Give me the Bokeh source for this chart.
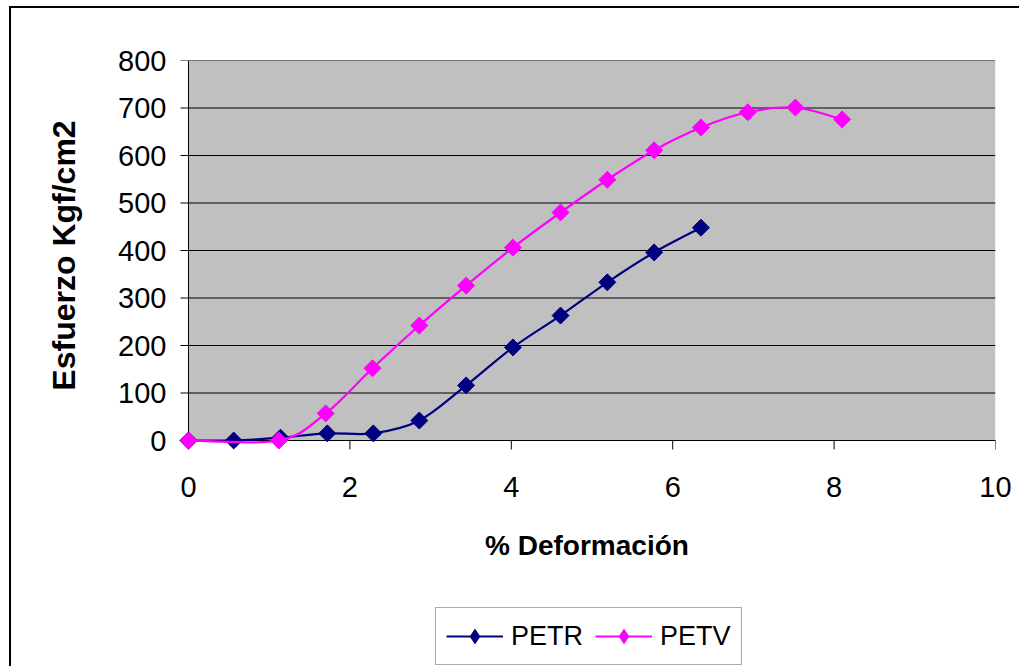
import numpy as np
from bokeh.plotting import figure
from bokeh.models import (ColumnDataSource, FixedTicker, Legend, LegendItem, Spacer)
from bokeh.layouts import column, row
from bokeh.embed import file_html
from bokeh.resources import INLINE

# % deformation vs stress (Kgf/cm2)
petr_x = [0, 0.56, 1.14, 1.72, 2.29, 2.86, 3.44, 4.02, 4.61, 5.19, 5.77, 6.35]
petr_y = [0, 0, 6, 15, 15, 42, 116, 196, 263, 333, 396, 448]

petv_x = [0, 1.12, 1.70, 2.28, 2.86, 3.44, 4.02, 4.61, 5.19, 5.77, 6.35, 6.93, 7.52, 8.10]
petv_y = [0, 0, 57, 152, 242, 326, 406, 480, 549, 611, 659, 691, 701, 676]

x_ticks = [0, 2, 4, 6, 8, 10]
y_ticks = [0, 100, 200, 300, 400, 500, 600, 700, 800]
X_MIN, X_MAX = 0, 10
Y_MIN, Y_MAX = 0, 800

NAVY = "#000080"
MAGENTA = "#FF00FF"
FONT = "Liberation Sans"
MARKER_SIZE = 12
LINE_W = 2.2

# frame geometry (pixels): 806 px across 10 units, 380 px across 800 units,
# plus a 10 px apron left of and below the axes so markers at 0 are drawn whole
PX_PER_X = 806 / (X_MAX - X_MIN)
PX_PER_Y = 380 / (Y_MAX - Y_MIN)
APRON = 10
X_TICK_LEN = 9 / PX_PER_Y
Y_TICK_LEN = 8 / PX_PER_X

CHART_W, CHART_H, KEY_H = 1008, 582, 76
CLIP = {"overflow": "hidden"}


def smooth_segments(xs, ys):
    """Cubic Bezier segments (Catmull-Rom style) through the given points."""
    xs = np.asarray(xs, float)
    ys = np.asarray(ys, float)
    n = len(xs)
    seg = dict(x0=[], y0=[], x1=[], y1=[], cx0=[], cy0=[], cx1=[], cy1=[])
    for i in range(n - 1):
        xp, yp = (xs[i - 1], ys[i - 1]) if i > 0 else (xs[i], ys[i])
        xn, yn = (xs[i + 2], ys[i + 2]) if i + 2 < n else (xs[i + 1], ys[i + 1])
        seg["x0"].append(xs[i]); seg["y0"].append(ys[i])
        seg["x1"].append(xs[i + 1]); seg["y1"].append(ys[i + 1])
        seg["cx0"].append(xs[i] + (xs[i + 1] - xp) / 6)
        seg["cy0"].append(ys[i] + (ys[i + 1] - yp) / 6)
        seg["cx1"].append(xs[i + 1] - (xn - xs[i]) / 6)
        seg["cy1"].append(ys[i + 1] - (yn - ys[i]) / 6)
    return ColumnDataSource(seg)


p = figure(width=CHART_W, height=CHART_H,
           x_range=(X_MIN - APRON / PX_PER_X, X_MAX),
           y_range=(Y_MIN - APRON / PX_PER_Y, Y_MAX),
           output_backend="svg", toolbar_location=None,
           min_border_left=167, min_border_right=24,
           min_border_top=52, min_border_bottom=140)
p.styles = CLIP

p.background_fill_color = "#FFFFFF"
p.border_fill_color = "#FFFFFF"
p.outline_line_color = None
p.xgrid.visible = False
p.ygrid.visible = False

# plot area and horizontal gridlines
p.quad(left=[X_MIN], right=[X_MAX], bottom=[Y_MIN], top=[Y_MAX],
       fill_color="#C0C0C0", line_color=None)
p.segment(x0=[X_MIN] * len(y_ticks), x1=[X_MAX] * len(y_ticks), y0=y_ticks, y1=y_ticks,
          line_color="#000000", line_width=1)

# axis lines and outward tick marks at the data origin
p.segment(x0=[X_MIN, X_MIN], y0=[Y_MIN, Y_MIN], x1=[X_MAX, X_MIN], y1=[Y_MIN, Y_MAX],
          line_color="#000000", line_width=1)
p.segment(x0=x_ticks, x1=x_ticks, y0=[Y_MIN] * len(x_ticks),
          y1=[Y_MIN - X_TICK_LEN] * len(x_ticks), line_color="#000000", line_width=1)
p.segment(x0=[X_MIN] * len(y_ticks), x1=[X_MIN - Y_TICK_LEN] * len(y_ticks),
          y0=y_ticks, y1=y_ticks, line_color="#000000", line_width=1)

# tick labels and titles come from the regular axes (their lines hidden)
p.xaxis.ticker = FixedTicker(ticks=x_ticks)
p.yaxis.ticker = FixedTicker(ticks=y_ticks)
for ax in (p.xaxis, p.yaxis):
    ax.axis_line_color = None
    ax.major_tick_line_color = None
    ax.major_tick_in = 0
    ax.major_tick_out = 0
    ax.minor_tick_line_color = None
    ax.major_label_text_font = FONT
    ax.major_label_text_font_size = "29px"
    ax.major_label_text_color = "#000000"
    ax.axis_label_text_font = FONT
    ax.axis_label_text_font_style = "bold"
    ax.axis_label_text_color = "#000000"

p.xaxis.major_label_standoff = 26
p.xaxis.axis_label = "% Deformación"
p.xaxis.axis_label_text_font_size = "28px"
p.xaxis.axis_label_standoff = 30

p.yaxis.major_label_standoff = 12
p.yaxis.axis_label = "Esfuerzo Kgf/cm2"
p.yaxis.axis_label_text_font_size = "32px"
p.yaxis.axis_label_standoff = 33

# smoothed curves with diamond markers
p.bezier(source=smooth_segments(petr_x, petr_y), x0="x0", y0="y0", x1="x1", y1="y1",
         cx0="cx0", cy0="cy0", cx1="cx1", cy1="cy1",
         line_color=NAVY, line_width=LINE_W)
p.scatter(petr_x, petr_y, marker="square", angle=np.pi / 4, size=MARKER_SIZE,
          fill_color=NAVY, line_color=NAVY)

p.bezier(source=smooth_segments(petv_x, petv_y), x0="x0", y0="y0", x1="x1", y1="y1",
         cx0="cx0", cy0="cy0", cx1="cx1", cy1="cy1",
         line_color=MAGENTA, line_width=LINE_W)
p.scatter(petv_x, petv_y, marker="square", angle=np.pi / 4, size=MARKER_SIZE,
          fill_color=MAGENTA, line_color=MAGENTA)

# legend strip underneath the chart
lg = figure(width=CHART_W, height=KEY_H, x_range=(0, 1), y_range=(0, 1),
            output_backend="svg", toolbar_location=None,
            min_border=0, min_border_left=0, min_border_right=0,
            min_border_top=0, min_border_bottom=0)
lg.styles = CLIP
lg.xaxis.visible = False
lg.yaxis.visible = False
lg.xgrid.visible = False
lg.ygrid.visible = False
lg.outline_line_color = None
lg.background_fill_color = "#FFFFFF"
lg.border_fill_color = "#FFFFFF"

# key glyphs sit outside the visible range; only the legend shows them
k_petr_l = lg.line([-5, -4], [-5, -4], line_color=NAVY, line_width=LINE_W)
k_petr_m = lg.scatter([-5], [-5], marker="diamond", size=18,
                      fill_color=NAVY, line_color=NAVY)
k_petv_l = lg.line([-5, -4], [-5, -4], line_color=MAGENTA, line_width=LINE_W)
k_petv_m = lg.scatter([-5], [-5], marker="diamond", size=18,
                      fill_color=MAGENTA, line_color=MAGENTA)

legend = Legend(items=[LegendItem(label="PETR", renderers=[k_petr_l, k_petr_m]),
                       LegendItem(label="PETV", renderers=[k_petv_l, k_petv_m])],
                orientation="horizontal", location=(257, 1),
                label_text_font=FONT, label_text_font_size="27px",
                label_text_color="#000000",
                glyph_width=57, glyph_height=36, label_height=36,
                label_standoff=8, spacing=12, padding=10, margin=0,
                border_line_color="#555555", border_line_width=1,
                background_fill_color="#FFFFFF", background_fill_alpha=1.0)
lg.add_layout(legend, "center")

# chart-area frame: a line along the top and one down the left side
top_rule = Spacer(width=CHART_W + 2, height=2, styles={"background-color": "#000000"})
left_rule = Spacer(width=2, height=CHART_H + KEY_H, styles={"background-color": "#000000"})

layout = column(Spacer(height=6),
                row(Spacer(width=9), top_rule, styles=CLIP),
                row(Spacer(width=9), left_rule, column(p, lg, styles=CLIP), styles=CLIP),
                styles=CLIP)

open("out.html", "w").write(file_html(layout, INLINE))
